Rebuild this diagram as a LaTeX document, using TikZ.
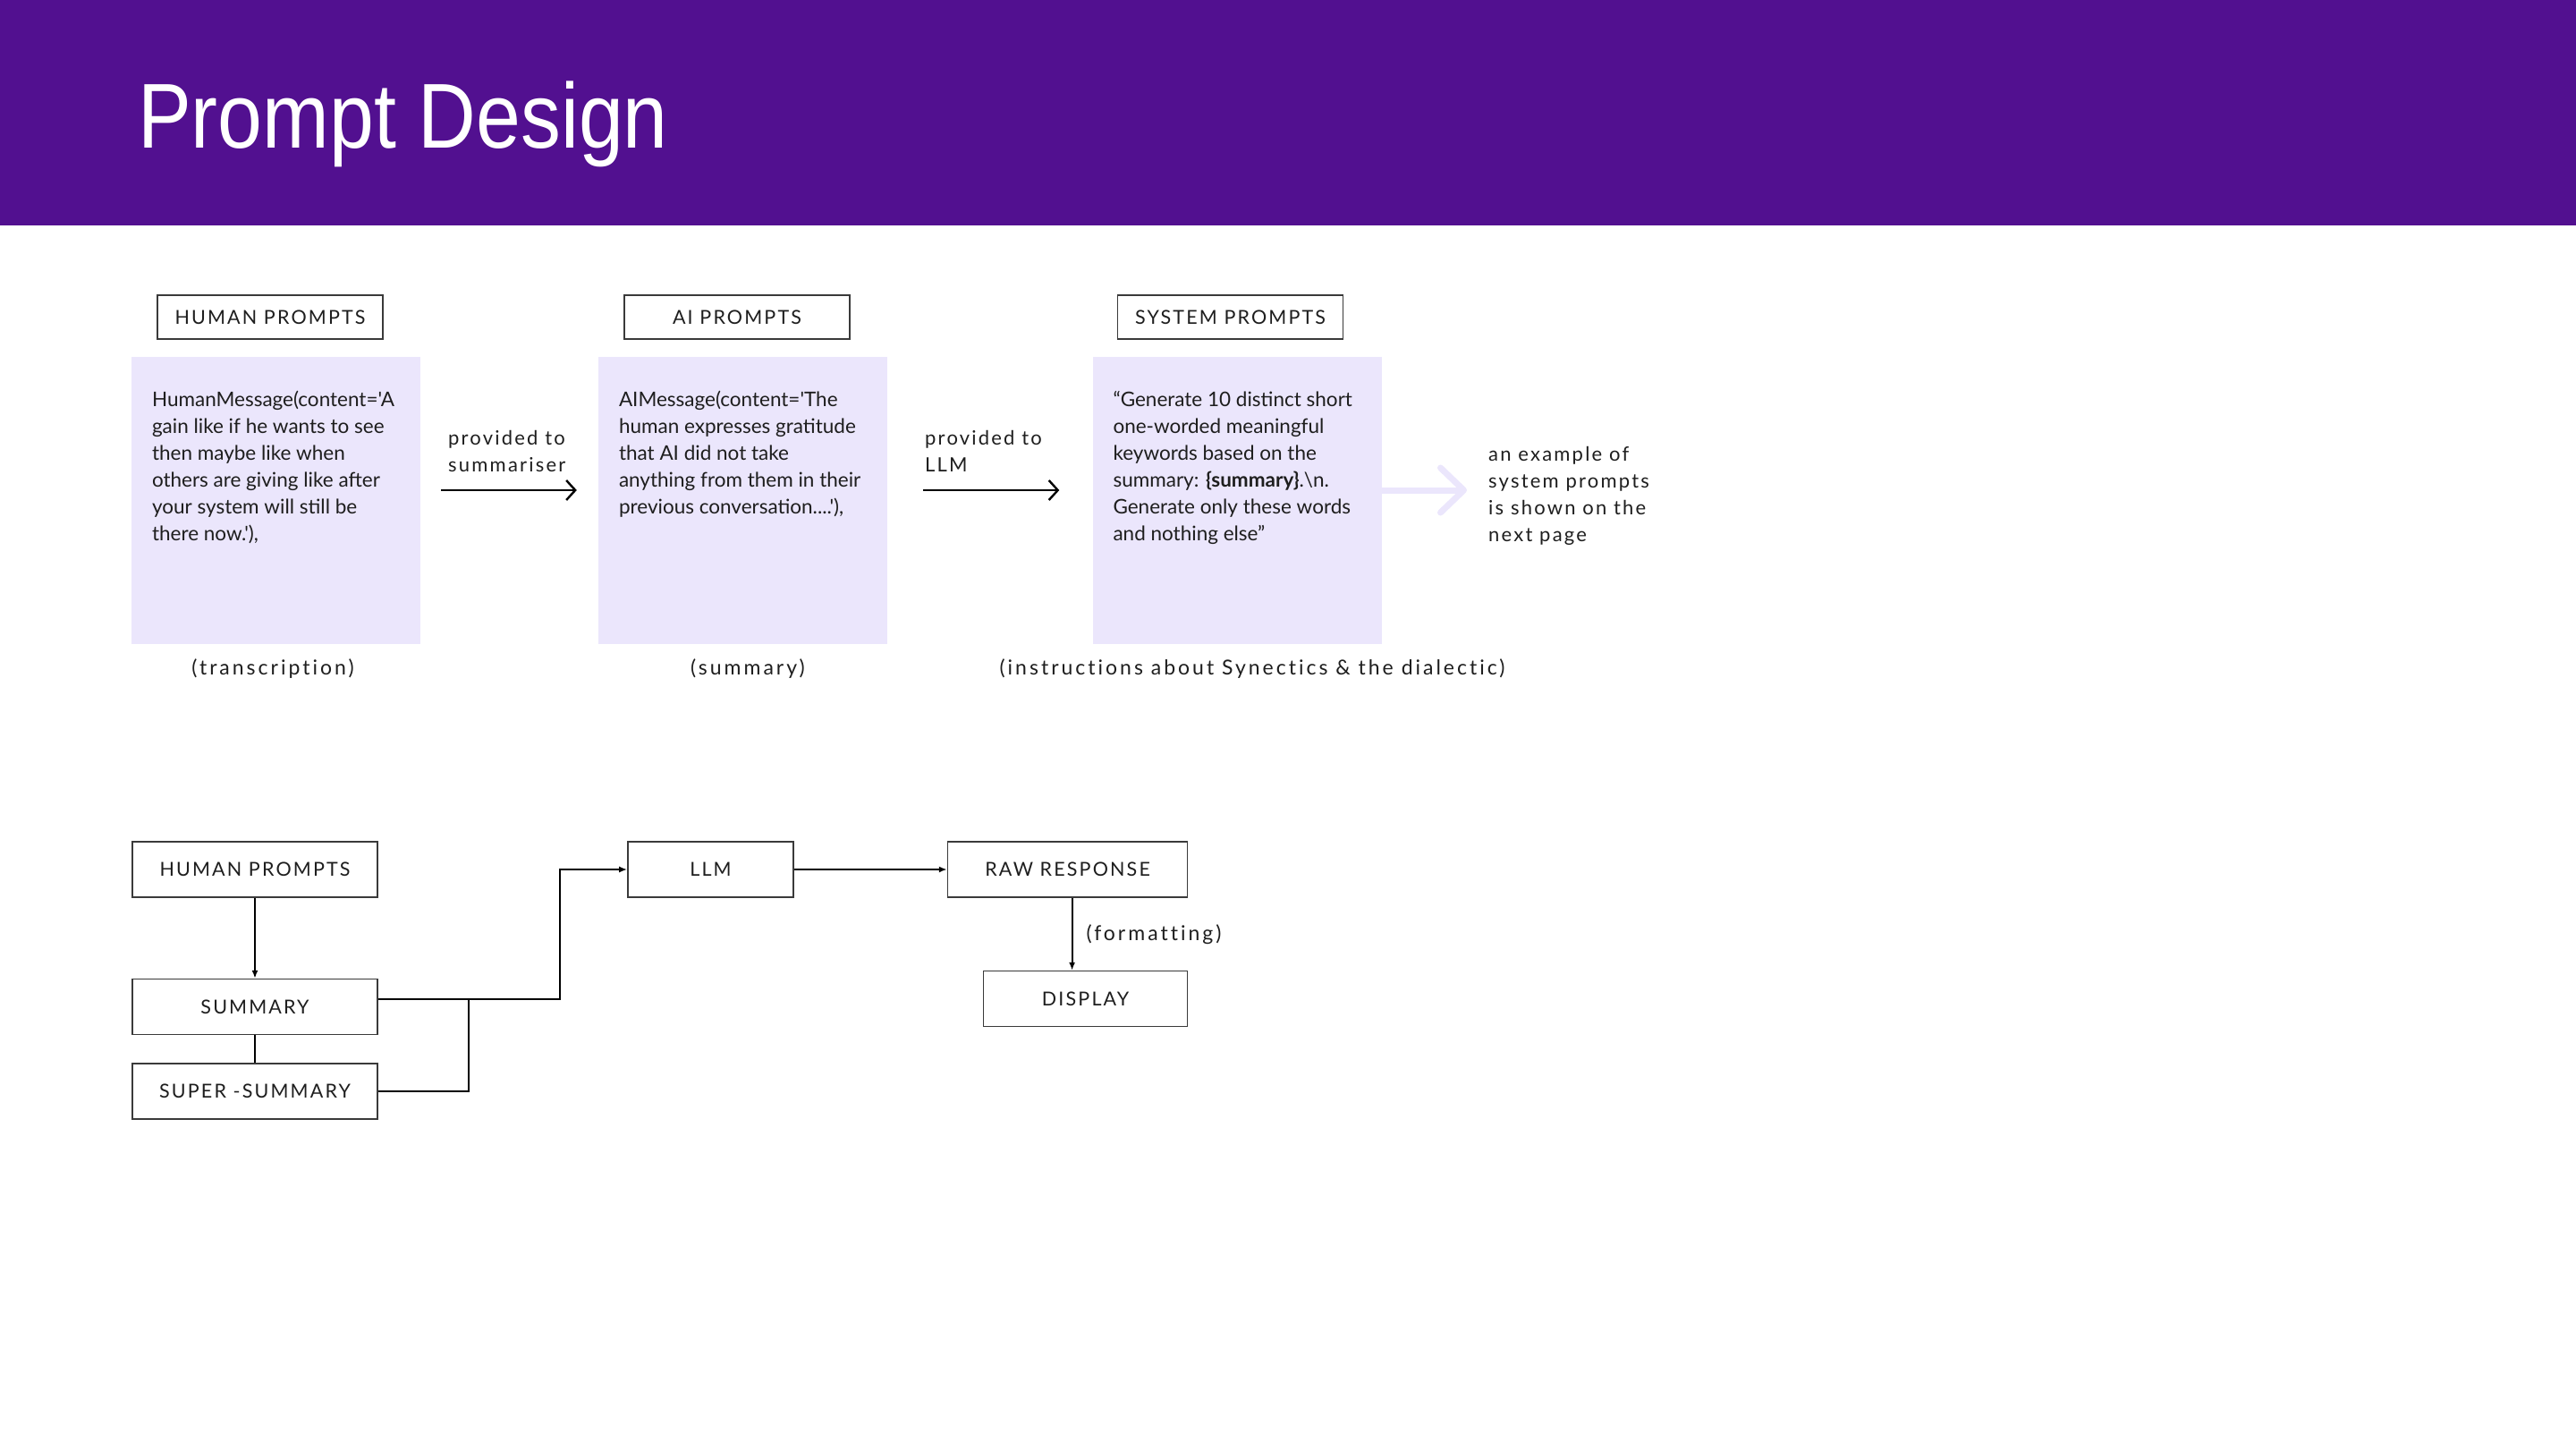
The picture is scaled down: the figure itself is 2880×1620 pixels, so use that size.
\documentclass[tikz,border=0pt]{standalone}
\usepackage{fontspec}
\setmainfont{Lato}
\newfontfamily\titlefont[FakeStretch=0.87]{Liberation Sans}
\newfontfamily\msgfont[Ligatures=TeXOff]{Lato}
\newfontfamily\spacedfont[LetterSpace=10,Ligatures=NoCommon]{Lato}
\newfontfamily\capfont[LetterSpace=13,Ligatures=NoCommon]{Lato}
\usetikzlibrary{arrows.meta,positioning}

\definecolor{bannerpurple}{HTML}{521090}
\definecolor{lavender}{HTML}{EBE6FC}
\definecolor{frame}{HTML}{3A3A3A}
\definecolor{ink}{HTML}{1E1E1E}

\begin{document}
\begin{tikzpicture}[x=1pt,y=-1pt,
    head box/.style={draw=frame,line width=1.6pt,minimum width=252pt,minimum height=49pt,inner sep=0pt,text=ink,font=\spacedfont\fontsize{21.5}{26}\selectfont},
    msg box/.style={fill=lavender,minimum width=323pt,minimum height=321pt,inner sep=0pt},
    msg text/.style={anchor=base west,inner sep=0pt,align=left,text=ink,font=\msgfont\fontsize{22.5}{30}\selectfont},
    note text/.style={inner sep=0pt,align=left,text=ink,font=\spacedfont\fontsize{22}{30}\selectfont},
    caption text/.style={inner sep=0pt,text=ink,font=\capfont\fontsize{23}{30}\selectfont},
    flow box/.style={draw=frame,line width=1.6pt,minimum height=62pt,inner sep=0pt,text=ink,font=\spacedfont\fontsize{21.5}{26}\selectfont},
    hop/.style={line width=2.4pt,-{Straight Barb[length=10pt,width=22pt]}},
    pale hop/.style={draw=lavender,line width=7pt,line cap=round,-{Straight Barb[length=26pt,width=50pt,round]}},
    flow/.style={line width=1.8pt,-{Latex[length=9pt,width=7pt]}}]
  \useasboundingbox (0,0) rectangle (2880,1620);

  % title banner
  \fill[bannerpurple] (0,0) rectangle (2880,252);
  \node[anchor=base west,inner sep=0pt,text=white,font=\titlefont\fontsize{103}{110}\selectfont] (title) at (154,165) {Prompt Design};

  % the three kinds of prompts
  \node[msg box] (hmsg) at (308.5,559.5) {};
  \node[msg box] (aimsg) at (830.5,559.5) {};
  \node[msg box] (sysmsg) at (1383,559.5) {};
  \node[head box,above=19pt of hmsg,xshift=-6.5pt] (hhead) {HUMAN PROMPTS};
  \node[head box,above=19pt of aimsg,xshift=-6.5pt] (aihead) {AI PROMPTS};
  \node[head box,above=19pt of sysmsg,xshift=-7.5pt] (syshead) {SYSTEM PROMPTS};

  % base of a text is its last line
  \node[msg text] (htext) at ([xshift=23pt,yshift=-206pt]hmsg.north west)
    {HumanMessage(content='A\\gain like if he wants to see\\then maybe like when\\others are giving like after\\your system will still be\\there now.'),};
  \node[msg text] (aitext) at ([xshift=23pt,yshift=-176pt]aimsg.north west)
    {AIMessage(content='The\\human expresses gratitude\\that AI did not take\\anything from them in their\\previous conversation....'),};
  \node[msg text] (systext) at ([xshift=23pt,yshift=-206pt]sysmsg.north west)
    {“Generate 10 distinct short\\one-worded meaningful\\keywords based on the\\summary: \textbf{\{summary\}}.\textbackslash n.\\Generate only these words\\and nothing else”};

  \node[caption text,below=16pt of hmsg,xshift=-3.5pt] (hcap) {(transcription)};
  \node[caption text,below=16pt of aimsg,xshift=5.5pt] (aicap) {(summary)};
  \node[caption text,below=16pt of sysmsg,xshift=17pt] (syscap) {(instructions about Synectics \& the dialectic)};

  \node[note text,anchor=base west] (sumlabel) at (501,527) {provided to\\summariser};
  \node[note text,anchor=base west] (llmlabel) at (1034,527) {provided to\\LLM};
  \node[note text,anchor=base west] (note) at (1664,605) {an example of\\system prompts\\is shown on the\\next page};

  \draw[hop] ([xshift=23pt,yshift=11.5pt]hmsg.east) -- ([xshift=-24pt,yshift=11.5pt]aimsg.west);
  \draw[hop] ([xshift=40pt,yshift=11.5pt]aimsg.east) -- ([xshift=-37pt,yshift=11.5pt]sysmsg.west);
  \draw[pale hop] ([yshift=11.5pt]sysmsg.east) -- ([xshift=-24pt,yshift=11.5pt]sysmsg.east -| note.west);

  % flow of the prompts
  \node[flow box,minimum width=274pt] (fhuman) at (285,972) {HUMAN PROMPTS};
  \node[flow box,minimum width=274pt,below=90pt of fhuman] (fsum) {SUMMARY};
  \node[flow box,minimum width=274pt,below=31pt of fsum] (fsuper) {SUPER -SUMMARY};
  \node[flow box,minimum width=185pt] (fllm) at (794.5,972) {LLM};
  \node[flow box,minimum width=268pt,right=171pt of fllm] (fraw) {RAW RESPONSE};
  \node[flow box,minimum width=228pt,below=81pt of fraw.south east,anchor=north east] (fdisp) {DISPLAY};
  \coordinate (merge) at ([xshift=101pt,yshift=9pt]fsum.east);

  \draw[flow] (fhuman) -- (fsum);
  \draw[line width=1.8pt] (fsum) -- (fsuper);
  \draw[flow] ([yshift=9pt]fsum.east) -| ([xshift=-75pt]fllm.west) -- (fllm.west);
  \draw[line width=1.8pt] (fsuper.east) -| (merge);
  \draw[flow] (fllm) -- (fraw);
  \draw[flow] ([xshift=5pt]fraw.south) -- ([xshift=5pt]fraw.south |- fdisp.north)
    node[midway,right=15pt,caption text] (fmt) {(formatting)};
\end{tikzpicture}
\end{document}
